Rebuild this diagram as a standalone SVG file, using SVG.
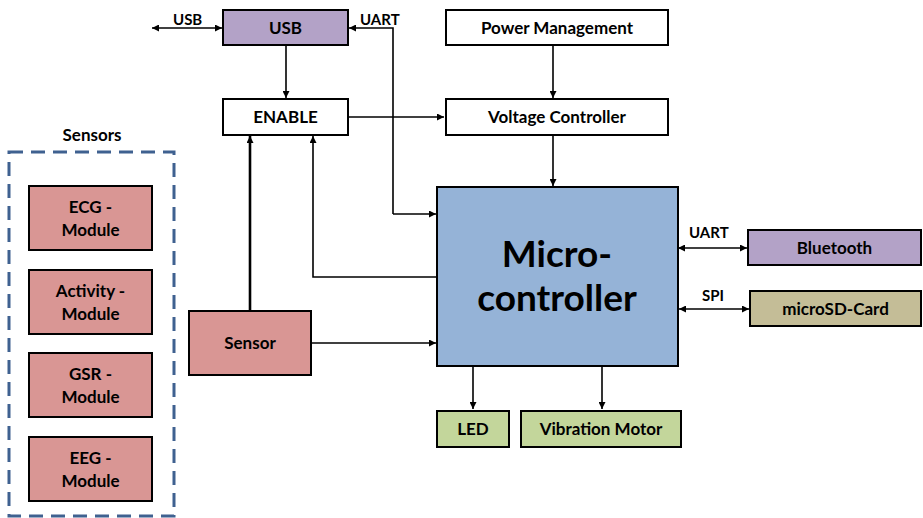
<svg xmlns="http://www.w3.org/2000/svg" width="923" height="518" viewBox="0 0 923 518">
<style>
.box{stroke:#000;stroke-width:2}
.white{fill:#fff}
.purple{fill:#b3a2c7}
.red{fill:#d99694}
.blue{fill:#95b3d7}
.green{fill:#c3d69b}
.tan{fill:#c4bd97}
text{font-family:Lato,"Liberation Sans",sans-serif;font-weight:bold;fill:#000}
.t{font-size:17px;text-anchor:middle}
.big{font-size:37px;text-anchor:middle}
.lbl{font-size:15px}
.c{fill:none;stroke:#000;stroke-width:1.6}
</style>
<defs>
<marker id="a" viewBox="0 0 10 10" refX="10" refY="5" markerWidth="7" markerHeight="7" orient="auto-start-reverse" markerUnits="userSpaceOnUse">
<path d="M0,0 L10,5 L0,10 z" fill="#000"/>
</marker>
</defs>
<rect width="923" height="518" fill="#fff"/>

<g id="connectors">
<line class="c" x1="152" y1="28" x2="222" y2="28" marker-start="url(#a)" marker-end="url(#a)"/>
<polyline class="c" points="393,214 393,28 349,28" marker-end="url(#a)"/>
<line class="c" x1="393" y1="214" x2="436" y2="214" marker-end="url(#a)"/>
<line class="c" x1="286" y1="46" x2="286" y2="98" marker-end="url(#a)"/>
<line class="c" x1="348" y1="117" x2="444" y2="117" marker-end="url(#a)"/>
<line class="c" x1="553" y1="45" x2="553" y2="98" marker-end="url(#a)"/>
<line class="c" x1="553" y1="135" x2="553" y2="186" marker-end="url(#a)"/>
<polyline class="c" points="437,277 313,277 313,136" marker-end="url(#a)"/>
<line class="c" x1="250" y1="311" x2="250" y2="136" style="stroke-width:2.6" marker-end="url(#a)"/>
<line class="c" x1="311" y1="343" x2="436" y2="343" marker-end="url(#a)"/>
<line class="c" x1="473" y1="366" x2="473" y2="409" marker-end="url(#a)"/>
<line class="c" x1="602" y1="366" x2="602" y2="409" marker-end="url(#a)"/>
<line class="c" x1="678" y1="248" x2="747" y2="248" marker-start="url(#a)" marker-end="url(#a)"/>
<line class="c" x1="679" y1="309" x2="749" y2="309" marker-start="url(#a)" marker-end="url(#a)"/>
<text class="lbl" x="173" y="25">USB</text>
<text class="lbl" x="360" y="25">UART</text>
<text class="lbl" x="689" y="238">UART</text>
<text class="lbl" x="702" y="301">SPI</text>
</g>

<g id="usb"><rect class="box purple" x="223" y="10" width="125" height="35"/><text class="t" x="285.5" y="34">USB</text></g>
<g id="enable"><rect class="box white" x="223" y="99" width="125" height="36"/><text class="t" x="285.5" y="123">ENABLE</text></g>
<g id="power"><rect class="box white" x="446" y="10" width="222" height="35"/><text class="t" x="557" y="34">Power Management</text></g>
<g id="voltage"><rect class="box white" x="446" y="99" width="222" height="36"/><text class="t" x="557" y="123">Voltage Controller</text></g>
<g id="micro"><rect class="box blue" x="437" y="187" width="241" height="179"/><text class="big" x="557" y="267">Micro-</text><text class="big" x="557" y="311">controller</text></g>
<g id="bluetooth"><rect class="box purple" x="748" y="230" width="173" height="35"/><text class="t" x="834.5" y="254">Bluetooth</text></g>
<g id="microsd"><rect class="box tan" x="750" y="291" width="171" height="35"/><text class="t" x="835.5" y="315">microSD-Card</text></g>
<g id="sensor"><rect class="box red" x="189" y="311" width="122" height="64"/><text class="t" x="250" y="349">Sensor</text></g>
<g id="led"><rect class="box green" x="437" y="411" width="72" height="36"/><text class="t" x="473" y="435">LED</text></g>
<g id="vibration"><rect class="box green" x="521" y="411" width="160" height="36"/><text class="t" x="601" y="435">Vibration Motor</text></g>

<g id="sensors">
<text class="t" x="92" y="141">Sensors</text>
<rect x="9" y="152" width="165" height="364" fill="none" stroke="#3f6190" stroke-width="3" stroke-dasharray="14,8"/>
</g>
<g id="ecg"><rect class="box red" x="29" y="186" width="123" height="64"/><text class="t" x="90.5" y="213">ECG -</text><text class="t" x="90.5" y="236">Module</text></g>
<g id="activity"><rect class="box red" x="29" y="270" width="123" height="64"/><text class="t" x="90.5" y="297">Activity -</text><text class="t" x="90.5" y="320">Module</text></g>
<g id="gsr"><rect class="box red" x="29" y="353" width="123" height="64"/><text class="t" x="90.5" y="380">GSR -</text><text class="t" x="90.5" y="403">Module</text></g>
<g id="eeg"><rect class="box red" x="29" y="437" width="123" height="64"/><text class="t" x="90.5" y="464">EEG -</text><text class="t" x="90.5" y="487">Module</text></g>
</svg>
